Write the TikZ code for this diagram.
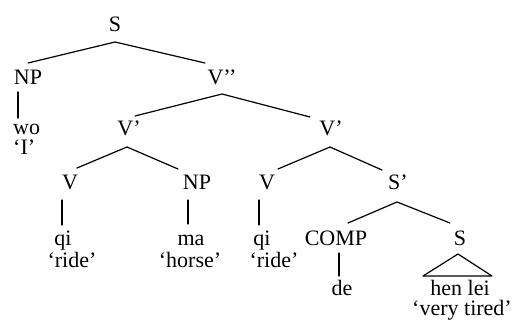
\documentclass[tikz,border=0pt]{standalone}
\usepackage{fontspec}
\setmainfont{Liberation Serif}
\usetikzlibrary{calc}
\begin{document}
\begin{tikzpicture}[x=1pt,y=-1pt,
  lbl/.style={inner sep=0pt,anchor=base,font=\fontsize{22}{26}\selectfont},
  lblw/.style={lbl,anchor=base west},
  edge/.style={line width=1.2pt,line cap=round,line join=round}]
\fill[white] (0,0) rectangle (520,326);
\useasboundingbox (0,0) rectangle (520,326);
% nodes
\node[lbl] (S0) at (115,32) {S};
\node[lbl] (NP0) at (28,85) {NP};
\node[lbl] (V2) at (222,85) {V’’};
\node[lblw] (wo) at (13,135) {wo};
\node[lblw] (I) at (13,155) {‘I’};
\node[lbl] (V1a) at (129,136) {V’};
\node[lbl] (V1b) at (331,136) {V’};
\node[lbl] (Va) at (70,190) {V};
\node[lbl] (NPb) at (197,190) {NP};
\node[lbl] (Vb) at (267,190) {V};
\node[lbl] (S1) at (398,190) {S’};
\node[lbl] (qi1) at (63,245) {qi};
\node[lbl] (ma) at (191,245) {ma};
\node[lbl] (qi2) at (262,245) {qi};
\node[lbl] (COMP) at (336,245) {COMP};
\node[lbl] (S2) at (460,245) {S};
\node[lbl] (ride1) at (72,267) {‘ride’};
\node[lbl] (horse) at (190,267) {‘horse’};
\node[lbl] (ride2) at (274,267) {‘ride’};
\node[lbl] (de) at (342,295) {de};
\node[lbl] (henlei) at (460,295) {hen lei};
\node[lbl] (tired) at (462,316) {‘very tired’};
% branches
\draw[edge] ($(NP0.base)+(0,-22)$) -- ($(S0.base)+(0,10)$) -- ($(V2.base)+(-17,-22)$);
\draw[edge] ($(V1a.base)+(6,-20)$) -- ($(V2.base)+(0,9)$) -- ($(V1b.base)+(-21,-19)$);
\draw[edge] ($(Va.base)+(7,-22)$) -- ($(V1a.base)+(-2,11)$) -- ($(NPb.base)+(-19,-21)$);
\draw[edge] ($(Vb.base)+(11,-21)$) -- ($(V1b.base)+(-1,11)$) -- ($(S1.base)+(-16,-20)$);
\draw[edge] ($(COMP.base)+(12,-22)$) -- ($(S1.base)+(-1,12)$) -- ($(S2.base)+(-10,-22)$);
% unary lines
\draw[edge] ($(NP0.base)+(-10,7)$) -- ($(wo.base west)+(5,-17)$);
\draw[edge] ($(Va.base)+(-8,10)$) -- ($(qi1.base)+(-1,-20)$);
\draw[edge] ($(NPb.base)+(-9,10)$) -- ($(ma.base)+(-3,-21)$);
\draw[edge] ($(Vb.base)+(-8,10)$) -- ($(qi2.base)+(-3,-20)$);
\draw[edge] ($(COMP.base)+(3,8)$) -- ($(de.base)+(-3,-19)$);
% triangle
\draw[edge] ($(S2.base)+(-2,9)$) -- ($(henlei.base)+(-37,-19)$) -- ($(henlei.base)+(32,-19)$) -- cycle;
\end{tikzpicture}
\end{document}
